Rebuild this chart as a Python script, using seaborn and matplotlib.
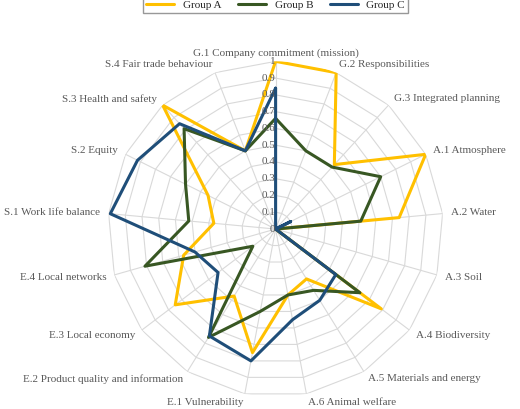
import numpy as np
import matplotlib
matplotlib.use("Agg")
import matplotlib.pyplot as plt
import seaborn as sns

categories = ["G.1 Company commitment (mission)", "G.2 Responsibilities", "G.3 Integrated planning",
              "A.1 Atmosphere", "A.2 Water", "A.3 Soil", "A.4 Biodiversity", "A.5 Materials and energy",
              "A.6 Animal welfare", "E.1 Vulnerability", "E.2 Product quality and information",
              "E.3 Local economy", "E.4 Local networks", "S.1 Work life balance", "S.2 Equity",
              "S.3 Health and safety", "S.4 Fair trade behaviour"]
group_a = [1.0, 1.0, 0.52, 1.0, 0.74, 0.0, 0.79, 0.35, 0.4, 0.75, 0.47, 0.75, 0.57, 0.37, 0.45, 1.0, 0.5]
group_b = [0.66, 0.5, 0.5, 0.7, 0.51, 0.0, 0.63, 0.43, 0.4, 0.5, 0.76, 0.17, 0.81, 0.52, 0.6, 0.81, 0.5]
group_c = [0.84, 0.0, 0.0, 0.1, 0.0, 0.0, 0.45, 0.5, 0.55, 0.8, 0.75, 0.43, 0.5, 0.99, 0.92, 0.85, 0.5]
series = {"Group A": (group_a, "#FFC000"), "Group B": (group_b, "#385723"), "Group C": (group_c, "#1F4E79")}
ticks = [0, 0.1, 0.2, 0.3, 0.4, 0.5, 0.6, 0.7, 0.8, 0.9, 1]

sns.set_style("white")
plt.rcParams['font.family'] = ['Liberation Serif', 'DejaVu Serif']

n = len(categories)
ang = np.linspace(0, 2*np.pi, n, endpoint=False)
fig = plt.figure(figsize=(5.2, 4.09), dpi=100)
ax = fig.add_axes([0.2, 0.03, 0.66, 0.82], projection="polar")
ax.set_theta_zero_location("N")
ax.set_theta_direction(-1)
ax.set_ylim(0, 1)
ax.grid(False)
ax.spines["polar"].set_visible(False)
ax.set_yticks([])
ax.set_xticks([])
closed = np.append(ang, ang[0])
for t in ticks[1:]:
    ax.plot(closed, [t]*(n+1), color="#D9D9D9", lw=0.8, zorder=1)
for a in ang:
    ax.plot([a, a], [0, 1], color="#D9D9D9", lw=0.8, zorder=1)
for name, (vals, col) in series.items():
    ax.plot(closed, vals + [vals[0]], color=col, lw=2.2, label=name, zorder=3)
for t in ticks:
    ax.text(0, t, f"{t:g}", ha="right", va="center", fontsize=8, color="#595959", zorder=4)
for a, c in zip(ang, categories):
    s = np.sin(a)
    ha = "center" if abs(s) < 0.1 else ("left" if s > 0 else "right")
    ax.text(a, 1.05, c, ha=ha, va="center", fontsize=8, color="#595959")
leg = ax.legend(loc="upper center", bbox_to_anchor=(0.5, 1.21), ncol=3, frameon=True,
                fancybox=False, edgecolor="#7F7F7F", fontsize=8, handlelength=2.5,
                columnspacing=1.5, borderpad=0.3)
fig.savefig("out.png", dpi=100)
